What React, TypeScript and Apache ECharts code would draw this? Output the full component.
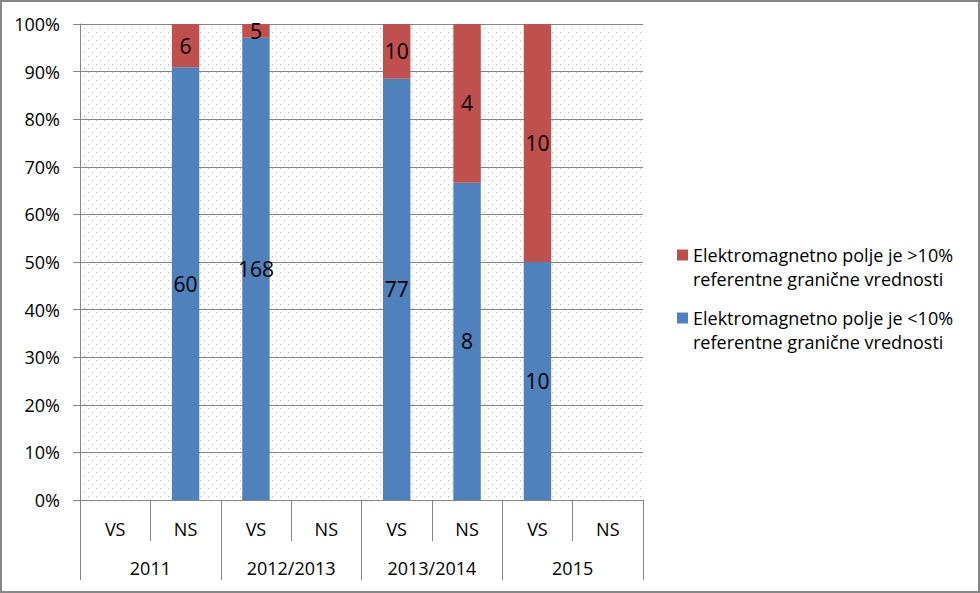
import React, { useEffect, useRef } from "react";
import * as echarts from "echarts";

const subCategories = ["VS", "NS", "VS", "NS", "VS", "NS", "VS", "NS"];
const yearLabels = ["2011", "2012/2013", "2013/2014", "2015"];
const belowCounts: (number | null)[] = [null, 60, 168, null, 77, 8, 10, null];
const aboveCounts: (number | null)[] = [null, 6, 5, null, 10, 4, 10, null];
const belowName = "Elektromagnetno polje je <10% referentne granične vrednosti";
const aboveName = "Elektromagnetno polje je >10% referentne granične vrednosti";

const toPercent = (counts: (number | null)[]) =>
  counts.map((c, i) => {
    const a = belowCounts[i];
    const b = aboveCounts[i];
    if (c == null || a == null || b == null) return null;
    return (c / (a + b)) * 100;
  });

function makePattern(): string {
  const c = document.createElement("canvas");
  c.width = 8;
  c.height = 8;
  const ctx = c.getContext("2d")!;
  ctx.fillStyle = "#ffffff";
  ctx.fillRect(0, 0, 8, 8);
  ctx.fillStyle = "#b4b4b4";
  ctx.fillRect(0, 0, 1, 1);
  ctx.fillRect(4, 4, 1, 1);
  return c.toDataURL();
}

const GRAY = "#868686";
const FONT = "Open Sans";

export default function App() {
  const ref = useRef<HTMLDivElement>(null);
  useEffect(() => {
    document.body.style.margin = "0";
    if (!ref.current) return;
    const chart = echarts.init(ref.current, null, { renderer: "svg" });
    const legendIcon = "path://M0,0L0,0M0,6.5L11,6.5L11,17.5L0,17.5ZM0,48L0,48";
    chart.setOption({
      animation: false,
      textStyle: { fontFamily: FONT },
      grid: {
        left: 80,
        right: 337,
        top: 24,
        bottom: 93,
        show: true,
        borderWidth: 0,
        backgroundColor: {
          image: makePattern(),
          repeat: "repeat",
          imageWidth: 8,
          imageHeight: 8,
        } as any,
      },
      legend: {
        orient: "vertical",
        left: 677,
        top: 243,
        padding: 0,
        itemGap: 15,
        itemWidth: 11,
        itemHeight: 48,
        icon: legendIcon,
        data: [aboveName, belowName],
        formatter: (name: string) => name.replace(" referentne", "\nreferentne"),
        textStyle: { fontSize: 18, lineHeight: 24, color: "#000", fontFamily: FONT },
        selectedMode: false,
      },
      xAxis: [
        {
          type: "category",
          data: subCategories,
          position: "bottom",
          axisLine: { show: true, lineStyle: { color: GRAY, width: 1 } },
          axisTick: { show: true, interval: 0, length: 41, alignWithLabel: false, lineStyle: { color: GRAY } },
          axisLabel: { interval: 0, margin: 20, fontSize: 18, color: "#000", fontFamily: FONT },
          splitLine: { show: false },
        },
        {
          type: "category",
          data: yearLabels,
          position: "bottom",
          axisLine: { show: false },
          axisTick: { show: true, interval: 0, length: 80, alignWithLabel: false, lineStyle: { color: GRAY } },
          axisLabel: { interval: 0, margin: 59, fontSize: 18, color: "#000", fontFamily: FONT },
          splitLine: { show: false },
        },
      ],
      yAxis: {
        type: "value",
        min: 0,
        max: 100,
        interval: 10,
        axisLine: { show: true, lineStyle: { color: GRAY } },
        axisTick: { show: true, length: 7, lineStyle: { color: GRAY } },
        axisLabel: { formatter: "{value}%", margin: 20, fontSize: 18, color: "#000", fontFamily: FONT },
        splitLine: { show: true, lineStyle: { color: GRAY, width: 1 } },
      },
      series: [
        {
          name: belowName,
          type: "bar",
          stack: "total",
          xAxisIndex: 0,
          barWidth: "39%",
          data: toPercent(belowCounts),
          itemStyle: { color: "#4F81BD" },
          label: {
            show: true,
            position: "inside",
            fontSize: 21,
            color: "#000",
            fontFamily: FONT,
            formatter: (p: any) => (belowCounts[p.dataIndex] == null ? "" : String(belowCounts[p.dataIndex])),
          },
        },
        {
          name: aboveName,
          type: "bar",
          stack: "total",
          xAxisIndex: 0,
          barWidth: "39%",
          data: toPercent(aboveCounts),
          itemStyle: { color: "#C0504D" },
          label: {
            show: true,
            position: "inside",
            fontSize: 21,
            color: "#000",
            fontFamily: FONT,
            formatter: (p: any) => (aboveCounts[p.dataIndex] == null ? "" : String(aboveCounts[p.dataIndex])),
          },
        },
      ],
      graphic: [
        {
          type: "rect",
          silent: true,
          z: 100,
          shape: { x: 1, y: 1, width: 978, height: 591 },
          style: { fill: "none", stroke: "#878787", lineWidth: 2 },
        },
      ],
    });
    return () => chart.dispose();
  }, []);
  return <div ref={ref} style={{ width: 980, height: 593 }} />;
}
